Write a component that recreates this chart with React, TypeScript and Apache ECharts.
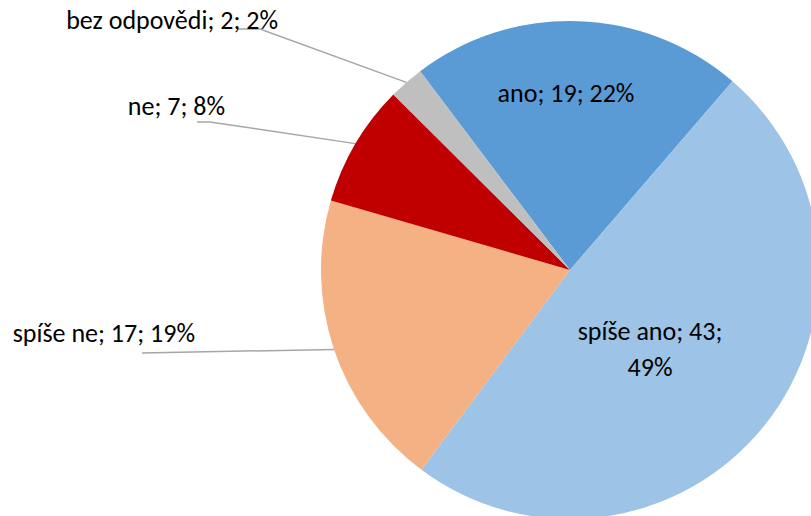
import React, { useEffect, useRef } from "react";
import * as echarts from "echarts";

const categories = ["ano", "spíše ano", "spíše ne", "ne", "bez odpovědi"];
const values = [19, 43, 17, 7, 2];
const colors = ["#5B9BD5", "#9DC3E6", "#F4B183", "#C00000", "#BFBFBF"];

// label placement (text anchor x,y, alignment, leader line elbow/end)
const labelPos = [
  { x: 566, y: 93, align: "center" },
  { x: 650, y: 349, align: "center" },
  { x: 195, y: 333, align: "right", line: [[142, 353], [142, 353]] },
  { x: 225, y: 106, align: "right", line: [[210, 122], [197, 122]] },
  { x: 278, y: 20, align: "right", line: [[260, 29], [238, 29]] },
];

export default function App() {
  const ref = useRef<HTMLDivElement>(null);
  useEffect(() => {
    document.body.style.margin = "0";
    const chart = echarts.init(ref.current!, undefined, { renderer: "svg" });
    chart.setOption({
      animation: false,
      backgroundColor: "#ffffff",
      series: [
        {
          type: "pie",
          center: [570, 270],
          radius: 249,
          startAngle: 127,
          clockwise: true,
          percentPrecision: 0,
          avoidLabelOverlap: false,
          data: categories.map((c, i) => ({
            name: c,
            value: values[i],
            itemStyle: { color: colors[i] },
            label: { position: i < 2 ? "inside" : "outside" },
            labelLine: { show: i >= 2 },
          })),
          label: {
            color: "#000000",
            fontFamily: "Carlito, Lato, sans-serif",
            fontSize: 26,
            lineHeight: 36,
            formatter: (p: any) =>
              p.dataIndex === 1
                ? `${p.name}; ${p.value};\n${p.percent}%`
                : `${p.name}; ${p.value}; ${p.percent}%`,
          },
          labelLine: {
            lineStyle: { color: "#A6A6A6", width: 1.5 },
            length: 20,
            length2: 20,
          },
          labelLayout: (params: any) => {
            const lp = labelPos[params.dataIndex];
            const out: any = {
              x: lp.x,
              y: lp.y,
              align: lp.align,
              verticalAlign: "middle",
            };
            if (lp.line && params.labelLinePoints) {
              out.labelLinePoints = [
                params.labelLinePoints[0],
                lp.line[0],
                lp.line[1],
              ];
            }
            return out;
          },
        },
      ],
    });
    return () => chart.dispose();
  }, []);
  return (
    <div
      ref={ref}
      style={{ position: "absolute", left: 0, top: 0, width: 811, height: 516 }}
    />
  );
}
